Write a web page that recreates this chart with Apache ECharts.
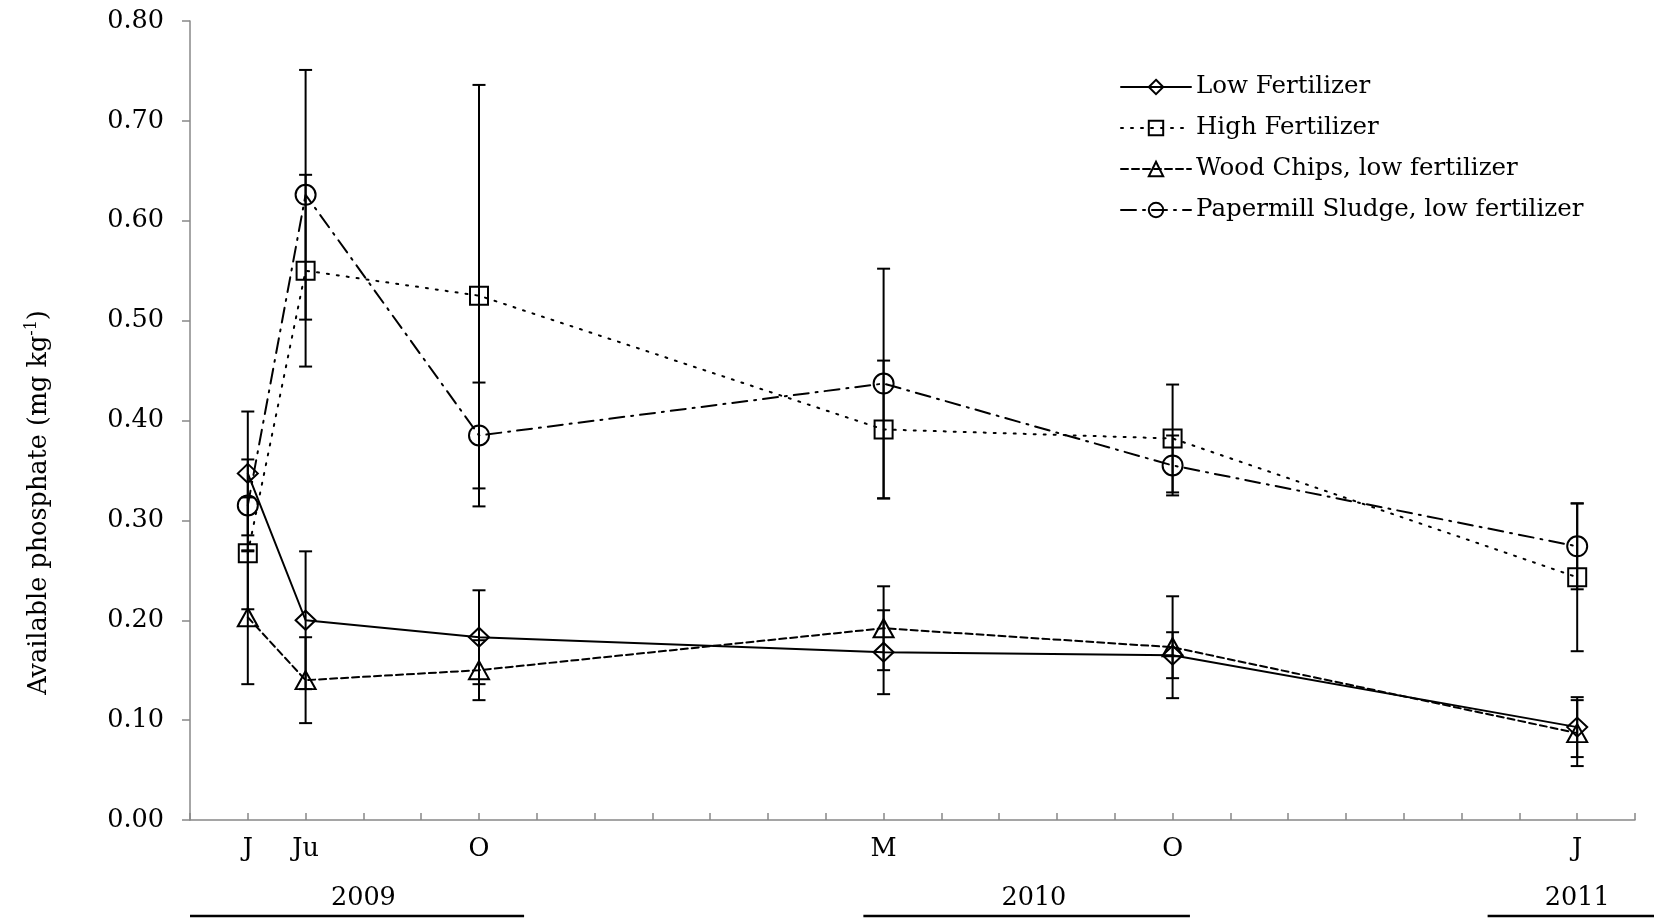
<!DOCTYPE html>
<html>
<head>
<meta charset="utf-8">
<script src="https://cdn.jsdelivr.net/npm/echarts@6/dist/echarts.min.js"></script>
<style>
html,body{margin:0;padding:0;background:#fff;}
#c{width:1654px;height:918px;}
</style>
</head>
<body>
<div id="c"></div>
<script>
// ---- data ----
const monthIndex = [1, 2, 5, 12, 17, 24];
const xTickLabels = ['', 'J', 'Ju', '', '', 'O', '', '', '', '', '', '', 'M', '', '', '', '', 'O', '', '', '', '', '', '', 'J', ''];
const yTickMin = 0, yTickMax = 0.8, yTickStep = 0.1;

const seriesNames = ['Low Fertilizer', 'High Fertilizer', 'Wood Chips, low fertilizer', 'Papermill Sludge, low fertilizer'];
const lowFert     = [0.347, 0.200, 0.183, 0.168, 0.165, 0.093];
const lowFertErr  = [0.062, 0.069, 0.047, 0.042, 0.023, 0.030];
const highFert    = [0.267, 0.550, 0.525, 0.391, 0.382, 0.243];
const highFertErr = [0.056, 0.096, 0.211, 0.069, 0.054, 0.074];
const woodChips   = [0.203, 0.140, 0.150, 0.192, 0.173, 0.087];
const woodChipsErr= [0.067, 0.043, 0.030, 0.042, 0.051, 0.033];
const paperSludge = [0.315, 0.626, 0.385, 0.437, 0.355, 0.274];
const paperSludgeErr = [0.046, 0.125, 0.053, 0.115, 0.030, 0.043];

const yearLabels    = ['2009', '2010', '2011'];
const yearCenter    = [3, 14.6, 24];
const yearLineStart = [0, 11.65, 22.45];
const yearLineEnd   = [5.78, 17.3, 26.2];

// ---- styles ----
const FONT = "'DejaVu Serif', 'Liberation Serif', serif";
const FS = 25.5;
const values = [lowFert, highFert, woodChips, paperSludge];
const errs = [lowFertErr, highFertErr, woodChipsErr, paperSludgeErr];
const symbols = ['diamond', 'rect', 'triangle', 'circle'];
const symbolSizes = [[20, 19], 18, [20, 18], 20];
const dashTypes = ['solid', [2, 8], [7, 4], [15, 7, 2, 7]];

const lineSeries = seriesNames.map((name, i) => ({
  name: name,
  type: 'line',
  data: monthIndex.map((m, j) => [m, values[i][j]]),
  symbol: symbols[i],
  symbolSize: symbolSizes[i],
  showAllSymbol: true,
  lineStyle: { color: '#000', width: 2, type: dashTypes[i], cap: 'round' },
  itemStyle: { color: 'rgba(255,255,255,0)', borderColor: '#000', borderWidth: 2 },
  emphasis: { disabled: true },
  z: 3
}));

const errData = [];
values.forEach((arr, i) => arr.forEach((v, j) => {
  errData.push([monthIndex[j], v - errs[i][j], v + errs[i][j]]);
}));

const errSeries = {
  type: 'custom',
  name: 'err',
  data: errData,
  encode: { x: 0, y: [1, 2] },
  z: 4,
  silent: true,
  renderItem: function (params, api) {
    const x = api.value(0), lo = api.value(1), hi = api.value(2);
    const p1 = api.coord([x, hi]);
    const p2 = api.coord([x, lo]);
    const w = 6.5;
    const st = { stroke: '#000', lineWidth: 2 };
    return {
      type: 'group',
      children: [
        { type: 'line', shape: { x1: p1[0], y1: p1[1], x2: p2[0], y2: p2[1] }, style: st },
        { type: 'line', shape: { x1: p1[0] - w, y1: p1[1], x2: p1[0] + w, y2: p1[1] }, style: st },
        { type: 'line', shape: { x1: p2[0] - w, y1: p2[1], x2: p2[0] + w, y2: p2[1] }, style: st }
      ]
    };
  }
};

const yearSeries = {
  type: 'custom',
  name: 'years',
  data: yearLabels.map((t, i) => [yearCenter[i], yearLineStart[i], yearLineEnd[i], i]),
  encode: { x: 0, y: -1 },
  clip: false,
  silent: true,
  renderItem: function (params, api) {
    const c = api.coord([api.value(0), 0]);
    const s = api.coord([api.value(1), 0]);
    const e = api.coord([api.value(2), 0]);
    const label = yearLabels[api.value(3)];
    return {
      type: 'group',
      children: [
        { type: 'text', style: { text: label, x: c[0], y: c[1] + 78, fill: '#000', fontSize: FS, fontFamily: FONT, align: 'center', verticalAlign: 'middle' } },
        { type: 'line', shape: { x1: s[0], y1: c[1] + 96, x2: e[0], y2: c[1] + 96 }, style: { stroke: '#000', lineWidth: 2.5 } }
      ]
    };
  }
};

const chart = echarts.init(document.getElementById('c'), null, { renderer: 'canvas' });
chart.setOption({
  animation: false,
  backgroundColor: '#fff',
  grid: { left: 190, right: 19, top: 21, bottom: 98, containLabel: false },
  legend: {
    data: seriesNames,
    orient: 'vertical',
    left: 1120,
    top: 72,
    padding: 0,
    itemWidth: 70,
    itemHeight: 18,
    itemGap: 11,
    selectedMode: false,
    textStyle: { fontFamily: FONT, fontSize: 24.5, color: '#000', lineHeight: 30 }
  },
  xAxis: {
    type: 'value',
    min: 0,
    max: xTickLabels.length - 1,
    interval: 1,
    splitLine: { show: false },
    axisLine: { show: true, onZero: false, lineStyle: { color: '#888', width: 1.5 } },
    axisTick: { show: true, inside: true, length: 7, lineStyle: { color: '#888', width: 1.5 } },
    axisLabel: {
      formatter: v => xTickLabels[Math.round(v)] || '',
      fontFamily: FONT, fontSize: FS, color: '#000', margin: 16,
      showMinLabel: true, showMaxLabel: true
    }
  },
  yAxis: {
    type: 'value',
    min: yTickMin,
    max: yTickMax,
    interval: yTickStep,
    splitLine: { show: false },
    axisLine: { show: true, lineStyle: { color: '#888', width: 1.5 } },
    axisTick: { show: true, length: 8, lineStyle: { color: '#888', width: 1.5 } },
    axisLabel: { formatter: v => v.toFixed(2), fontFamily: FONT, fontSize: FS, color: '#000', margin: 26 },
    name: '{a|Available phosphate (mg kg}{s|-1}{a|)}',
    nameLocation: 'middle',
    nameGap: 136,
    nameRotate: 90,
    nameTextStyle: {
      padding: [0, 164, 0, 0],
      rich: {
        a: { fontFamily: FONT, fontSize: FS, color: '#000', lineHeight: 30 },
        s: { fontFamily: FONT, fontSize: 16, color: '#000', lineHeight: 16, verticalAlign: 'top' }
      }
    }
  },
  series: lineSeries.concat([errSeries, yearSeries])
});
</script>
</body>
</html>
